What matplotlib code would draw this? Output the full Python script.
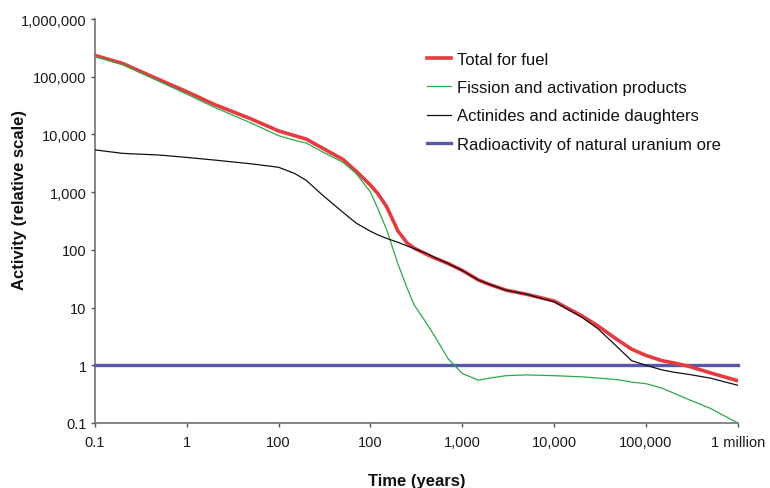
import matplotlib
matplotlib.use('Agg')
import matplotlib.pyplot as plt
import matplotlib.ticker as mticker

plt.rcParams['font.family'] = ['Liberation Sans', 'DejaVu Sans']

# time after discharge (years)
years = [0.1, 0.2, 0.5, 1, 2, 5, 10, 15, 20, 30, 50, 70, 100, 120, 150, 200, 250,
         300, 400, 500, 700, 1000, 1500, 2000, 3000, 5000, 10000, 20000, 30000,
         50000, 70000, 100000, 150000, 200000, 300000, 500000, 1000000]

# activity, relative scale
total_fuel = [234000, 170000, 89000, 55000, 33000, 18600, 11500, 9500, 8300, 5800, 3700,
              2300, 1320, 950, 560, 210, 132, 107, 85, 72, 58, 44, 30, 25, 20, 17,
              13, 7.2, 4.8, 2.7, 1.9, 1.48, 1.2, 1.1, 0.95, 0.74, 0.54]
fission = [224000, 162000, 83000, 50000, 29500, 15800, 9500, 7900, 7100, 5000, 3300,
           2100, 1000, 525, 224, 56, 22, 11, 5.6, 3.2, 1.3, 0.72, 0.55, 0.6, 0.66,
           0.68, 0.66, 0.63, 0.6, 0.56, 0.51, 0.48, 0.4, 0.33, 0.25, 0.18, 0.1]
actinides = [5400, 4700, 4400, 4000, 3600, 3100, 2700, 2100, 1600, 890, 450, 290, 210,
             182, 158, 135, 117, 105, 88, 74, 58, 44, 30, 25, 20, 17, 12.6, 6.8,
             4.3, 2.0, 1.2, 1.0, 0.83, 0.76, 0.69, 0.6, 0.45]
ore_years = [0.1, 1000000]
uranium_ore = [1, 1]

xticks = [0.1, 1, 10, 100, 1000, 10000, 100000, 1000000]
xlabels = ['0.1', '1', '100', '100', '1,000', '10,000', '100,000', '1 million']
yticks = [0.1, 1, 10, 100, 1000, 10000, 100000, 1000000]
ylabels = ['0.1', '1', '10', '100', '1,000', '10,000', '100,000', '1,000,000']

fig = plt.figure(figsize=(7.7, 4.89), dpi=100)
ax = fig.add_axes([0.1234, 0.133, 0.8347, 0.826])

ax.plot(years, total_fuel, color='#e63a3f', lw=2.6, label='Total for fuel', zorder=4)
ax.plot(years, fission, color='#2aaa48', lw=0.9, label='Fission and activation products', zorder=5)
ax.plot(years, actinides, color='#111111', lw=0.9, label='Actinides and actinide daughters', zorder=5)
ax.plot(ore_years, uranium_ore, color='#5858a8', lw=2.4, label='Radioactivity of natural uranium ore',
        zorder=3, clip_on=False)

ax.set_xscale('log')
ax.set_yscale('log')
ax.set_xlim(0.1, 1e6)
ax.set_ylim(0.1, 1e6)

ax.xaxis.set_major_locator(mticker.FixedLocator(xticks))
ax.xaxis.set_major_formatter(mticker.FixedFormatter(xlabels))
ax.yaxis.set_major_locator(mticker.FixedLocator(yticks))
ax.yaxis.set_major_formatter(mticker.FixedFormatter(ylabels))
ax.xaxis.set_minor_locator(mticker.NullLocator())
ax.yaxis.set_minor_locator(mticker.NullLocator())

for s in ['top', 'right']:
    ax.spines[s].set_visible(False)
for s in ['left', 'bottom']:
    ax.spines[s].set_color('#666666')
    ax.spines[s].set_linewidth(1.1)
ax.tick_params(axis='both', direction='out', length=3, width=1, color='#555555',
               labelsize=10.5, labelcolor='#1a1a1a')
ax.tick_params(axis='x', pad=6)
ax.tick_params(axis='y', pad=3)

ax.set_xlabel('Time (years)', fontsize=12, fontweight='bold', color='#111111', va='top')
ax.set_ylabel('Activity (relative scale)', fontsize=12, fontweight='bold', color='#111111',
              va='center')
ax.xaxis.set_label_coords(0.5, -0.124)
ax.yaxis.set_label_coords(-0.118, 0.554)

# legend without frame, top right
leg = ax.legend(loc='upper left', bbox_to_anchor=(0.5545, 0.892), bbox_transform=fig.transFigure,
                frameon=False, fontsize=12, borderpad=0, borderaxespad=0,
                handlelength=1.44, handletextpad=0.36, labelspacing=0.8)
for t in leg.get_texts():
    t.set_color('#111111')

fig.savefig('out.png', dpi=100)
